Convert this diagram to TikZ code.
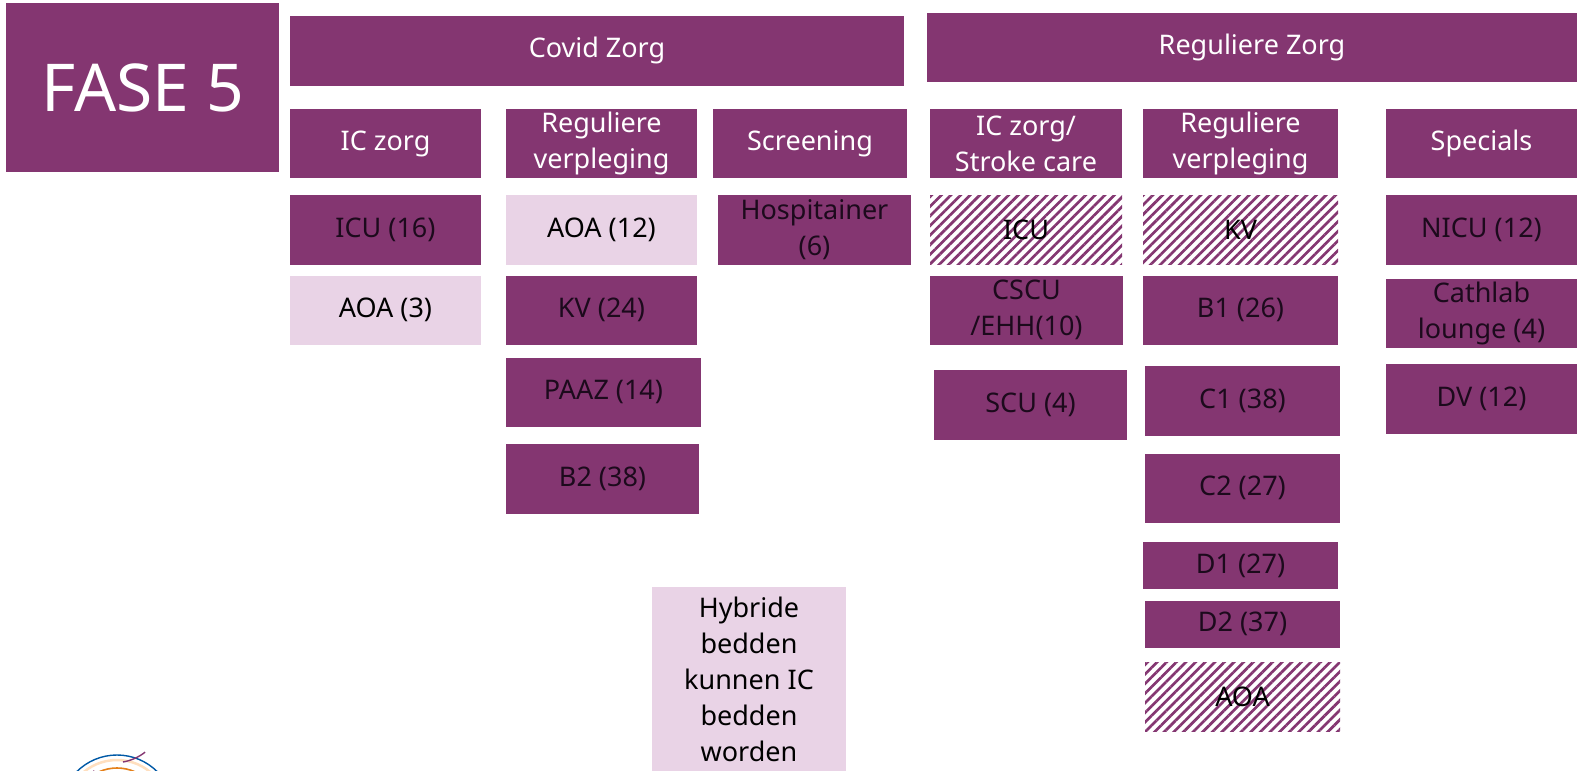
\documentclass[tikz,border=0pt]{standalone}
\usepackage{fontspec}
\setmainfont{Noto Sans}
\usetikzlibrary{patterns.meta}
\definecolor{paars}{HTML}{843671}
\definecolor{lichtpaars}{HTML}{E9D3E6}
\definecolor{donker}{HTML}{1C0A1C}
\tikzset{
  vak/.style={fill=paars,text=donker,inner sep=0pt,align=center,font=\fontsize{27}{36}\selectfont},
  kop/.style={vak,text=white},
  licht/.style={vak,fill=lichtpaars,text=black},
  arcering/.style={vak,fill=white,text=black,postaction={pattern={Lines[angle=45,distance=6.8pt,line width=2.7pt]},pattern color=paars}}
}
\begin{document}
\begin{tikzpicture}[x=1pt,y=-1pt]
    \useasboundingbox (0,0) rectangle (1577,771);
    \fill[white] (0,0) rectangle (1577,771);
    \node[kop,minimum width=273pt,minimum height=169pt,font=\fontsize{66}{80}\selectfont] (fase) at (142.5,87.5) {FASE 5};
    \foreach \name/\xa/\ya/\xb/\yb/\txt in {
        covid/290/16/904/85.5/Covid Zorg,
        regulier/927/13/1577/82/Reguliere Zorg,
        iczorg/290/109/481/178/IC zorg,
        verplega/506/109/697/178/{Reguliere\\verpleging},
        screening/713/109/907/178/Screening,
        stroke/930/109/1122/178/{IC zorg/\\Stroke care},
        verplegb/1143/109/1338/178/{Reguliere\\verpleging},
        specials/1386/109/1577/178/Specials}
        {
          \node[kop,minimum width={(\xb-\xa)*1pt},minimum height={(\yb-\ya)*1pt}] (\name) at ({(\xa+\xb)/2},{(\ya+\yb)/2}) {\txt};
        };
    \foreach \name/\xa/\ya/\xb/\yb/\txt in {
        icu/290/195/481/264.5/ICU (16),
        hospitainer/718/195/911/264.5/{Hospitainer\\(6)},
        nicu/1386/195/1577/264.5/NICU (12),
        kvz/506/275.5/697/345/KV (24),
        cscu/930/275.5/1123/345/{CSCU\\/EHH(10)},
        beena/1143/275.5/1338/345/B1 (26),
        cathlab/1386/278.5/1577/348/{Cathlab\\lounge (4)},
        paaz/506/358/701/426.5/PAAZ (14),
        btwee/506/443.5/699/514/B2 (38),
        scu/934/370/1127/439.5/SCU (4),
        ceen/1145/366/1340/435.5/C1 (38),
        dv/1386/364/1577/433.5/DV (12),
        ctwee/1145/453.5/1340/523/C2 (27),
        deen/1143/542/1338/589/D1 (27),
        dtwee/1145/600.5/1340/648/D2 (37)}
        {
          \node[vak,minimum width={(\xb-\xa)*1pt},minimum height={(\yb-\ya)*1pt}] (\name) at ({(\xa+\xb)/2},{(\ya+\yb)/2}) {\txt};
        };
    \foreach \name/\xa/\ya/\xb/\yb/\txt in {
        aoaa/506/195/697/264.5/AOA (12),
        aoab/290/275.5/481/345/AOA (3),
        hybride/652/587/846/771/{Hybride\\bedden\\kunnen IC\\bedden\\worden}}
        {
          \node[licht,minimum width={(\xb-\xa)*1pt},minimum height={(\yb-\ya)*1pt}] (\name) at ({(\xa+\xb)/2},{(\ya+\yb)/2}) {\txt};
        };
    \foreach \name/\xa/\ya/\xb/\yb/\txt in {
        icuh/930/195/1122/264.5/ICU,
        kvh/1143/195/1338/264.5/KV,
        aoah/1145/662/1340/731/AOA}
        {
          \node[arcering,minimum width={(\xb-\xa)*1pt},minimum height={(\yb-\ya)*1pt}] (\name) at ({(\xa+\xb)/2},{(\ya+\yb)/2}) {\txt};
        };
    \begin{scope}
        \clip (0,0) rectangle (1577,771);
        \draw[color=teal!70!blue,line width=1.4pt] (117,812) circle (57);
        \draw[color=orange!25,line width=2.5pt] (117,812) circle (52);
        \draw[color=paars,line width=1.4pt] (93,771) arc (115:85:49);
        \draw[color=paars,line width=1.4pt] (123,762) arc (80:52:50);
        \draw[color=orange!60!brown,line width=1.6pt] (117,812) circle (44);
    \end{scope}
\end{tikzpicture}
\end{document}
